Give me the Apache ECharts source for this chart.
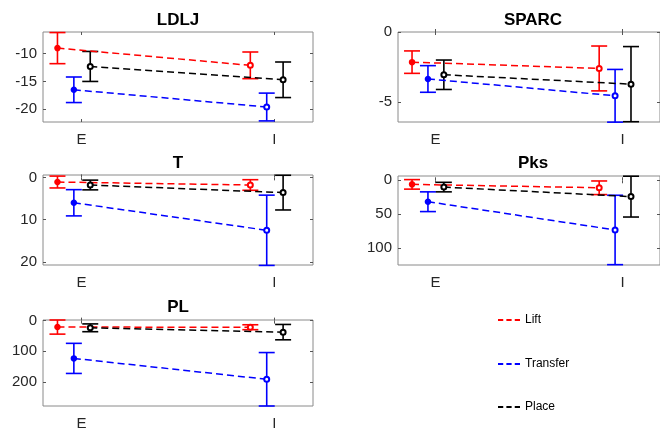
<!DOCTYPE html>
<html><head><meta charset="utf-8">
<script src="https://cdn.jsdelivr.net/npm/echarts@6/dist/echarts.min.js"></script>
<style>html,body{margin:0;padding:0;background:#fff}#c{width:660px;height:431px}</style>
</head><body><div id="c"></div>
<script>
// ---- data ----
const categories = ['E', 'I'];
const groups = ['Lift', 'Transfer', 'Place'];
const metricNames = ['LDLJ', 'SPARC', 'T', 'Pks', 'PL'];
// rows: Lift, Transfer, Place ; columns: E, I
const ldljMeans = [[-9.0, -12.1], [-16.5, -19.6], [-12.3, -14.7]];
const ldljErrs  = [[2.8, 2.4], [2.3, 2.5], [2.7, 3.2]];
const sparcMeans = [[-2.15, -2.6], [-3.35, -4.55], [-3.05, -3.72]];
const sparcErrs  = [[0.8, 1.6], [0.95, 1.88], [1.05, 2.68]];
const tMeans = [[1.1, 1.8], [6.0, 12.5], [1.8, 3.6]];
const tErrs  = [[1.4, 1.25], [3.1, 8.3], [1.15, 4.1]];
const pksMeans = [[6, 11], [31.5, 73], [10, 24]];
const pksErrs  = [[7, 10], [14.5, 51], [7, 30]];
const plMeans = [[21, 21.5], [123, 191], [23.4, 37.5]];
const plErrs  = [[23, 8], [49, 87], [12.7, 25]];
const ldljTicks = [-20, -15, -10];
const sparcTicks = [-5, 0];
const tTicks = [0, 10, 20];
const pksTicks = [0, 50, 100];
const plTicks = [0, 100, 200];

// ---- layout / style ----
const FONT = "'Liberation Sans', Arial, sans-serif";
const TXT = '#262626';
const colors = ['#ff0000', '#0000ff', '#000000'];
const offsets = [-0.125, -0.04, 0.045];
const panels = [
  {means: ldljMeans, errs: ldljErrs, ticks: ldljTicks, min: -22.3, max: -6.1, inverse: false,
   grid: {left: 43, top: 32, width: 270, height: 90}, titleTop: 12},
  {means: sparcMeans, errs: sparcErrs, ticks: sparcTicks, min: -6.42, max: 0, inverse: false,
   grid: {left: 398, top: 32, width: 270, height: 90}, titleTop: 12},
  {means: tMeans, errs: tErrs, ticks: tTicks, min: -0.56, max: 20.7, inverse: true,
   grid: {left: 43, top: 175, width: 270, height: 90}, titleTop: 155},
  {means: pksMeans, errs: pksErrs, ticks: pksTicks, min: -6.3, max: 124.5, inverse: true,
   grid: {left: 398, top: 176, width: 270, height: 89}, titleTop: 155},
  {means: plMeans, errs: plErrs, ticks: plTicks, min: -2, max: 278, inverse: true,
   grid: {left: 43, top: 320, width: 270, height: 88}, titleTop: 299}
];

const grid = [], xAxis = [], yAxis = [], series = [], title = [];
panels.forEach((p, i) => {
  grid.push(Object.assign({show: true, borderColor: '#8a8a8a', borderWidth: 1, containLabel: false}, p.grid));
  title.push({text: metricNames[i], left: p.grid.left + p.grid.width / 2, top: p.titleTop, textAlign: 'center', padding: 0,
    textStyle: {fontFamily: FONT, fontSize: 17, fontWeight: 'bold', color: '#000'}});
  const xBase = {gridIndex: i, type: 'value', min: 0.8, max: 2.2, axisLine: {show: false}, splitLine: {show: false},
    axisTick: {show: true, inside: true, length: 3, customValues: [1, 2], lineStyle: {color: '#555'}}};
  xAxis.push(Object.assign({}, xBase, {position: 'bottom',
    axisLabel: {customValues: [1, 2], formatter: v => categories[Math.round(v) - 1], fontFamily: FONT, fontSize: 15, color: TXT, margin: 10}}));
  xAxis.push(Object.assign({}, xBase, {position: 'top', axisLabel: {show: false}}));
  const yBase = {gridIndex: i, type: 'value', min: p.min, max: p.max, inverse: p.inverse, axisLine: {show: false}, splitLine: {show: false},
    axisTick: {show: true, inside: true, length: 3, customValues: p.ticks, lineStyle: {color: '#555'}}};
  yAxis.push(Object.assign({}, yBase, {position: 'left',
    axisLabel: {customValues: p.ticks, formatter: v => String(v), fontFamily: FONT, fontSize: 15, color: TXT, margin: 6}}));
  yAxis.push(Object.assign({}, yBase, {position: 'right', axisLabel: {show: false}}));

  groups.forEach((g, k) => {
    const ebData = categories.map((c, j) => {
      const m = p.means[k][j], e = p.errs[k][j];
      return [j + 1 + offsets[k], m, m - e, m + e];
    });
    series.push({
      type: 'custom', name: g, xAxisIndex: 2 * i, yAxisIndex: 2 * i, z: 2, silent: true,
      encode: {x: 0, y: [1, 2, 3]},
      data: ebData,
      itemStyle: {color: colors[k]},
      renderItem: (params, api) => {
        const x = api.value(0);
        const a = api.coord([x, api.value(2)]);
        const b = api.coord([x, api.value(3)]);
        const hw = 8;
        const st = {stroke: colors[k], lineWidth: 1.6};
        return {type: 'group', children: [
          {type: 'line', shape: {x1: a[0], y1: a[1], x2: b[0], y2: b[1]}, style: st},
          {type: 'line', shape: {x1: a[0] - hw, y1: a[1], x2: a[0] + hw, y2: a[1]}, style: st},
          {type: 'line', shape: {x1: b[0] - hw, y1: b[1], x2: b[0] + hw, y2: b[1]}, style: st}
        ]};
      }
    });
    series.push({
      type: 'line', name: g, xAxisIndex: 2 * i, yAxisIndex: 2 * i, z: 3,
      data: categories.map((c, j) => {
        const item = {value: [j + 1 + offsets[k], p.means[k][j]]};
        if (j === 0 && k < 2) item.symbol = 'circle';
        return item;
      }),
      symbol: 'emptyCircle', symbolSize: 5,
      itemStyle: {color: colors[k], borderColor: colors[k], borderWidth: 1.5},
      lineStyle: {color: colors[k], width: 1.5, type: [7, 4]}
    });
  });
});

const legendIcon = 'path://M0,0h5v1.5h-5z M8,0h5v1.5h-5z M16,0h5v1.5h-5z';
const legendTops = [314, 358, 401];
const legend = groups.map((g, k) => ({
  data: [{name: g, icon: legendIcon}], left: 498, top: legendTops[k], padding: 0,
  itemWidth: 22, itemHeight: 2, symbolKeepAspect: false,
  textStyle: {fontFamily: FONT, fontSize: 12, color: '#000'}
}));

const chart = echarts.init(document.getElementById('c'), null, {renderer: 'canvas'});
chart.setOption({animation: false, backgroundColor: '#fff', title, grid, xAxis, yAxis, legend, series});
</script></body></html>
